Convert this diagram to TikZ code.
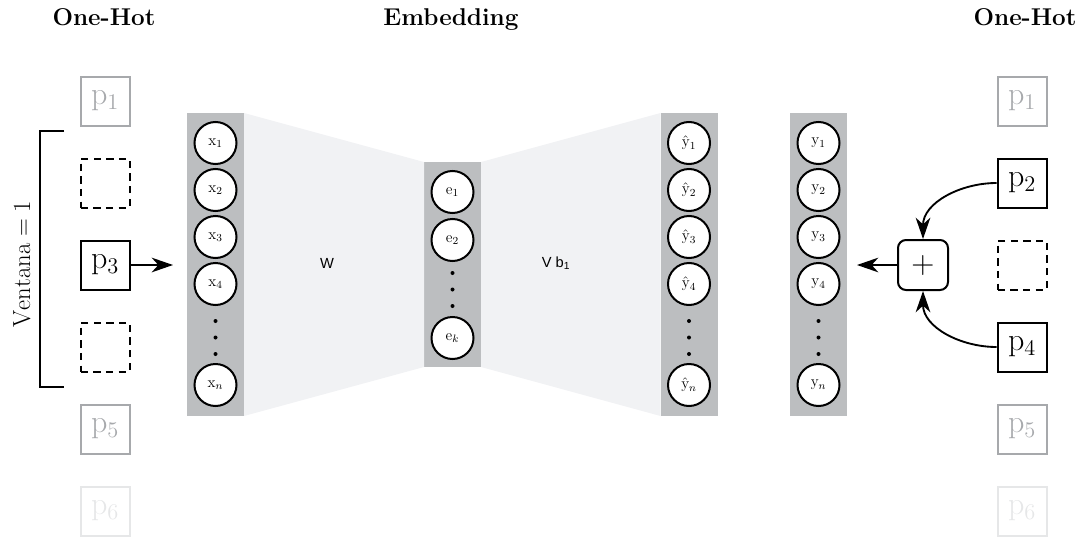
\documentclass[tikz,border=0pt]{standalone}
\usepackage{fix-cm}
\usepackage{fontspec}
\newfontfamily\labelfont{Liberation Sans}
\usetikzlibrary{arrows.meta}

\definecolor{layergray}{HTML}{BCBEC0}
\definecolor{mapgray}{HTML}{F1F2F4}
\definecolor{fadegray}{HTML}{A7A9AC}
\definecolor{fadergray}{HTML}{E6E7E8}

\begin{document}
\begin{tikzpicture}[
		x=0.75pt, y=-0.75pt,
		title/.style={font=\fontsize{18.2}{20}\selectfont\bfseries, anchor=base},
		word/.style={draw, line width=1.5pt, minimum size=36.75pt, inner sep=0pt,
				font=\fontsize{24}{26}\selectfont},
		faded/.style={word, draw=fadegray, text=fadegray},
		fainter/.style={word, draw=fadergray, text=fadergray},
		blank/.style={word, dashed, dash pattern=on 5.5pt off 4pt},
		layer/.style={fill=layergray, minimum width=42.75pt, inner sep=0pt, outer sep=0pt},
		unit/.style={circle, draw, fill=white, line width=1.5pt, minimum size=31.5pt,
				inner sep=0pt, font=\fontsize{11.5}{12}\selectfont},
		maplabel/.style={font=\fontsize{11}{13}\labelfont},
		arrow/.style={-{Stealth[length=16pt, width=11pt, inset=5pt]}, line width=1.4pt}
	]
	\useasboundingbox (0,0) rectangle (1081,539);

	% titles
	\node[title] (hotl) at (104,26) {One-Hot};
	\node[title] (emb) at (451,26) {Embedding};
	\node[title] (hotr) at (1025,26) {One-Hot};

	% input window
	\node[faded] (l1) at (105,101) {$\mathrm{p}_1$};
	\node[blank] (l2) at (105,183) {};
	\node[word] (l3) at (105,265) {$\mathrm{p}_3$};
	\node[blank] (l4) at (105,347) {};
	\node[faded] (l5) at (105,429) {$\mathrm{p}_5$};
	\node[fainter] (l6) at (105,511) {$\mathrm{p}_6$};

	\draw[line width=1.5pt] (64,131) -- (40,131) -- (40,387) -- (64,387);
	\node[rotate=90, font=\fontsize{18.5}{20}\selectfont] (win) at (22,264) {$\mathrm{Ventana}=1$};

	% context words
	\node[faded] (r1) at (1022,101) {$\mathrm{p}_1$};
	\node[word] (r2) at (1022,183) {$\mathrm{p}_2$};
	\node[blank] (r3) at (1022,265) {};
	\node[word] (r4) at (1022,347) {$\mathrm{p}_4$};
	\node[faded] (r5) at (1022,429) {$\mathrm{p}_5$};
	\node[fainter] (r6) at (1022,511) {$\mathrm{p}_6$};

	% layers
	\node[layer, minimum height=227.25pt] (xcol) at (215.5,264.5) {};
	\node[layer, minimum height=153.75pt] (ecol) at (452.5,264.5) {};
	\node[layer, minimum height=227.25pt] (hcol) at (689,264.5) {};
	\node[layer, minimum height=227.25pt] (ycol) at (818.5,264.5) {};

	\fill[mapgray] (xcol.north east) -- (ecol.north west) -- (ecol.south west) -- (xcol.south east) -- cycle;
	\fill[mapgray] (ecol.north east) -- (hcol.north west) -- (hcol.south west) -- (ecol.south east) -- cycle;

	\node[maplabel] (wlab) at (327,263) {W};
	\node[maplabel] (vlab) at (556,263) {V b\textsubscript{1}};

	% units
	\foreach \i/\yy in {1/143,2/190,3/237,4/284} {
			\node[unit] (x\i) at (215.5,\yy) {$\mathrm{x}_{\i}$};
			\node[unit] (h\i) at (689,\yy) {$\hat{\mathrm{y}}_{\i}$};
			\node[unit] (y\i) at (818.5,\yy) {$\mathrm{y}_{\i}$};
		}
	\node[unit] (xn) at (215.5,385) {$\mathrm{x}_{n}$};
	\node[unit] (hn) at (689,385) {$\hat{\mathrm{y}}_{n}$};
	\node[unit] (yn) at (818.5,385) {$\mathrm{y}_{n}$};
	\foreach \yy in {321,337.5,354} {
			\fill (215.5,\yy) circle (1.5pt);
			\fill (689,\yy) circle (1.5pt);
			\fill (818.5,\yy) circle (1.5pt);
		}

	\node[unit] (e1) at (452.5,192) {$\mathrm{e}_{1}$};
	\node[unit] (e2) at (452.5,240) {$\mathrm{e}_{2}$};
	\node[unit] (ek) at (452.5,338) {$\mathrm{e}_{k}$};
	\foreach \yy in {273,289.5,306}
	\fill (452.5,\yy) circle (1.5pt);

	% sum of the context
	\node[draw, rounded corners=6pt, line width=1.5pt, minimum size=37.5pt, inner sep=0pt,
		font=\fontsize{24}{26}\selectfont] (sum) at (923,265) {$+$};

	\coordinate (xin) at (173,265);
	\coordinate (yin) at (857,265);
	\draw[arrow] (l3) -- (xin);
	\draw[arrow] (sum) -- (yin);
	\draw[arrow] (r2.west) to[out=180, in=90] (sum.north);
	\draw[arrow] (r4.west) to[out=180, in=-90] (sum.south);
\end{tikzpicture}
\end{document}
